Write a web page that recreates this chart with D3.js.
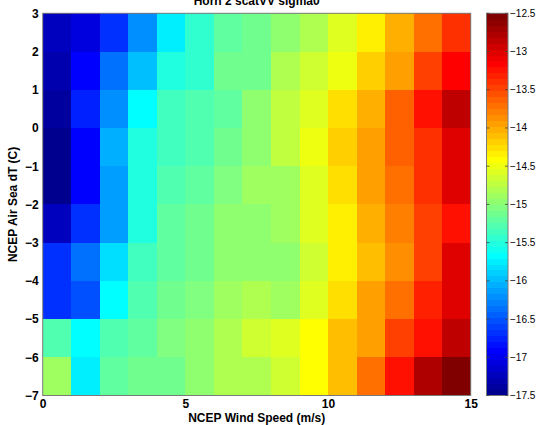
<!DOCTYPE html>
<html>
<head>
<meta charset="utf-8">
<script src="https://cdn.jsdelivr.net/npm/d3@7"></script>
<style>
  html, body { margin: 0; padding: 0; background: #fff; }
  svg { display: block; font-family: "Liberation Sans", Arial, sans-serif; }
</style>
</head>
<body>
<svg id="chart" width="536" height="425"></svg>
<script>
// Wind speed bin edges (m/s) and air-sea temperature difference bin edges (C)
const windEdges = d3.range(0, 16, 1);           // 0..15
const dtEdges = d3.range(-7, 4, 1);             // -7..3

// Mean sigma0 (dB) per bin, one array per dT band (lower edge noted), wind 0-1 ... 14-15
const dT_p2 = [-17.24, -17.07, -16.68, -16.19, -15.72, -15.43, -15.18, -15.09, -14.99, -14.84, -14.60, -14.35, -14.06, -13.71, -13.42];
const dT_p1 = [-17.29, -16.92, -16.38, -15.94, -15.53, -15.43, -15.13, -15.10, -14.79, -14.65, -14.47, -14.15, -13.91, -13.46, -13.18];
const dT_0  = [-17.39, -16.77, -16.24, -15.65, -15.38, -15.29, -15.20, -15.00, -14.75, -14.57, -14.25, -14.00, -13.61, -13.23, -12.85];
const dT_m1 = [-17.44, -16.90, -16.09, -15.53, -15.33, -15.24, -15.10, -14.94, -14.70, -14.50, -14.15, -13.91, -13.66, -13.38, -13.00];
const dT_m2 = [-17.48, -16.90, -16.10, -15.53, -15.24, -15.20, -15.05, -14.90, -14.85, -14.55, -14.22, -13.98, -13.71, -13.42, -13.03];
const dT_m3 = [-17.19, -16.68, -16.10, -15.48, -15.22, -15.10, -15.00, -14.95, -14.92, -14.60, -14.35, -14.00, -13.80, -13.50, -13.27];
const dT_m4 = [-16.68, -16.33, -15.85, -15.38, -15.20, -15.10, -15.00, -14.95, -14.95, -14.65, -14.35, -14.10, -13.90, -13.50, -13.00];
const dT_m5 = [-16.68, -16.53, -15.70, -15.24, -15.15, -15.05, -14.92, -14.79, -14.92, -14.55, -14.22, -13.91, -13.68, -13.33, -13.00];
const dT_m6 = [-15.30, -15.63, -15.28, -15.20, -15.05, -14.95, -14.80, -14.65, -14.55, -14.38, -14.10, -13.95, -13.50, -13.22, -12.85];
const dT_m7 = [-14.85, -15.75, -15.20, -15.15, -15.10, -14.95, -14.82, -14.80, -14.65, -14.38, -14.10, -13.71, -13.27, -12.81, -12.52];

// Lower edge of each dT band paired with its row of values
const dtLower = [2, 1, 0, -1, -2, -3, -4, -5, -6, -7];
const sigmaRows = [dT_p2, dT_p1, dT_0, dT_m1, dT_m2, dT_m3, dT_m4, dT_m5, dT_m6, dT_m7];

// Axis ticks
const xTicks = [0, 5, 10, 15];
const yTicks = [3, 2, 1, 0, -1, -2, -3, -4, -5, -6, -7];
const cTicks = [-12.5, -13, -13.5, -14, -14.5, -15, -15.5, -16, -16.5, -17, -17.5];
const colorLimits = [-17.5, -12.5];

const titleText = "Horn 2 scatVV sigma0";
const xLabel = "NCEP Wind Speed (m/s)";
const yLabel = "NCEP Air Sea dT (C)";

// 64-level jet palette
function jet64() {
  const out = [];
  for (let i = 1; i <= 64; i++) {
    let r, g, b;
    if (i <= 8) { r = 0; g = 0; b = 0.5 + i / 16; }
    else if (i <= 24) { r = 0; g = (i - 8) / 16; b = 1; }
    else if (i <= 40) { r = (i - 24) / 16; g = 1; b = 1 - (i - 24) / 16; }
    else if (i <= 56) { r = 1; g = 1 - (i - 40) / 16; b = 0; }
    else { r = 1 - (i - 56) / 16; g = 0; b = 0; }
    out.push(d3.rgb(r * 255, g * 255, b * 255).formatHex());
  }
  return out;
}
const palette = jet64();

const svg = d3.select("#chart");
const plot = { left: 42.7, right: 470.7, top: 13.3, bottom: 395.5 };
const cbar = { left: 486.5, right: 508, top: 13.3, bottom: 395.5 };

const x = d3.scaleLinear().domain([windEdges[0], windEdges[windEdges.length - 1]]).range([plot.left, plot.right]);
const y = d3.scaleLinear().domain([dtEdges[0], dtEdges[dtEdges.length - 1]]).range([plot.bottom, plot.top]);
const color = d3.scaleQuantize().domain(colorLimits).range(palette);

// Heatmap cells
const cells = [];
sigmaRows.forEach((row, ri) => {
  row.forEach((v, ci) => {
    cells.push({ x0: windEdges[ci], x1: windEdges[ci + 1], y0: dtLower[ri], y1: dtLower[ri] + 1, v });
  });
});

svg.append("g")
  .selectAll("rect")
  .data(cells)
  .join("rect")
  .attr("x", d => x(d.x0))
  .attr("y", d => y(d.y1))
  .attr("width", d => x(d.x1) - x(d.x0) + 0.4)
  .attr("height", d => y(d.y0) - y(d.y1) + 0.4)
  .attr("fill", d => color(d.v))
  .attr("shape-rendering", "crispEdges");

// Plot frame
svg.append("rect")
  .attr("x", plot.left).attr("y", plot.top)
  .attr("width", plot.right - plot.left).attr("height", plot.bottom - plot.top)
  .attr("fill", "none").attr("stroke", "#7a7a7a").attr("stroke-width", 1);

// Axes (labels only; tick marks sit beneath the image)
const xAxis = svg.append("g")
  .attr("transform", `translate(0,${plot.bottom})`)
  .call(d3.axisBottom(x).tickValues(xTicks).tickSize(0).tickPadding(4).tickFormat(d3.format("d")));
xAxis.select(".domain").remove();
xAxis.selectAll("text").attr("font-size", 12).attr("font-weight", "bold").attr("fill", "#000")
  .attr("font-family", "Liberation Sans, Arial, sans-serif");

const yAxis = svg.append("g")
  .attr("transform", `translate(${plot.left},0)`)
  .call(d3.axisLeft(y).tickValues(yTicks).tickSize(0).tickPadding(4).tickFormat(d3.format("d")));
yAxis.select(".domain").remove();
yAxis.selectAll("text").attr("font-size", 12).attr("font-weight", "bold").attr("fill", "#000")
  .attr("font-family", "Liberation Sans, Arial, sans-serif");

// Title (sits at the very top edge)
svg.append("text")
  .attr("x", (plot.left + plot.right) / 2).attr("y", 4.5)
  .attr("text-anchor", "middle").attr("font-size", 12).attr("font-weight", "bold")
  .text(titleText);

svg.append("text")
  .attr("x", (plot.left + plot.right) / 2).attr("y", 422)
  .attr("text-anchor", "middle").attr("font-size", 12).attr("font-weight", "bold")
  .text(xLabel);

svg.append("text")
  .attr("transform", `translate(17,${(plot.top + plot.bottom) / 2}) rotate(-90)`)
  .attr("text-anchor", "middle").attr("font-size", 12).attr("font-weight", "bold")
  .text(yLabel);

// Colorbar
const cy = d3.scaleLinear().domain(colorLimits).range([cbar.bottom, cbar.top]);
const step = (colorLimits[1] - colorLimits[0]) / palette.length;
svg.append("g")
  .selectAll("rect")
  .data(palette)
  .join("rect")
  .attr("x", cbar.left)
  .attr("y", (d, i) => cy(colorLimits[0] + (i + 1) * step))
  .attr("width", cbar.right - cbar.left)
  .attr("height", (d, i) => cy(colorLimits[0] + i * step) - cy(colorLimits[0] + (i + 1) * step) + 0.4)
  .attr("fill", d => d)
  .attr("shape-rendering", "crispEdges");

svg.append("rect")
  .attr("x", cbar.left).attr("y", cbar.top)
  .attr("width", cbar.right - cbar.left).attr("height", cbar.bottom - cbar.top)
  .attr("fill", "none").attr("stroke", "#7a7a7a").attr("stroke-width", 1);

const cTickG = svg.append("g");
cTickG.selectAll("line.l")
  .data(cTicks).join("line").attr("class", "l")
  .attr("x1", cbar.left).attr("x2", cbar.left + 3)
  .attr("y1", d => cy(d)).attr("y2", d => cy(d))
  .attr("stroke", "#444").attr("stroke-width", 0.8);
cTickG.selectAll("line.r")
  .data(cTicks).join("line").attr("class", "r")
  .attr("x1", cbar.right - 3).attr("x2", cbar.right)
  .attr("y1", d => cy(d)).attr("y2", d => cy(d))
  .attr("stroke", "#444").attr("stroke-width", 0.8);
cTickG.selectAll("text")
  .data(cTicks).join("text")
  .attr("x", cbar.right + 2)
  .attr("y", d => cy(d))
  .attr("dy", "0.35em")
  .attr("font-size", 10)
  .attr("fill", "#000")
  .text(d => d3.format("")(d));
</script>
</body>
</html>
